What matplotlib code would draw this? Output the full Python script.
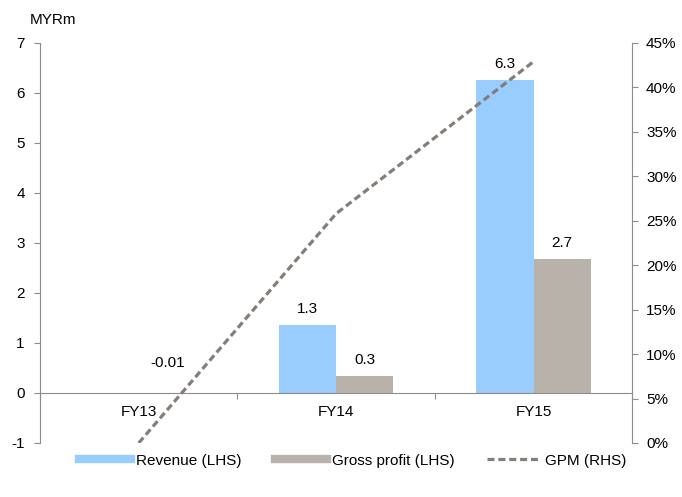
import matplotlib
matplotlib.use("Agg")
import numpy as np
from matplotlib import pyplot as plt
from matplotlib.lines import Line2D

# data
years = ["FY13", "FY14", "FY15"]
revenue = [0.0, 1.36, 6.26]
gross_profit = [-0.01, 0.34, 2.68]
revenue_labels = ["", "1.3", "6.3"]
gp_labels = ["-0.01", "0.3", "2.7"]
gpm = [0.0, 25.8, 42.9]

REV_COLOR = "#99CCFF"
GP_COLOR = "#B8B2AB"
LINE_COLOR = "#857D77"
AXIS_COLOR = "#8C8C8C"


def main():
    plt.rcParams["font.family"] = ["Liberation Sans", "DejaVu Sans"]
    plt.rcParams["font.size"] = 11
    plt.rcParams["axes.unicode_minus"] = False

    fig = plt.figure(figsize=(6.82, 4.97), dpi=100)
    ax = fig.add_axes([0.0587, 0.1087, 0.8683, 0.8048])
    ax2 = ax.twinx()

    x = np.arange(len(years))
    w = 0.29
    ax.bar(x - w / 2, revenue, w, color=REV_COLOR, zorder=2)
    ax.bar(x + w / 2, gross_profit, w, color=GP_COLOR, zorder=2)

    for i in range(len(years)):
        if revenue_labels[i]:
            ax.text(x[i] - w / 2, revenue[i] + 0.18, revenue_labels[i],
                    ha="center", va="bottom")
        # negative values get their label lifted clear of the zero line
        off = 0.45 if gross_profit[i] < 0 else 0.18
        ax.text(x[i] + w / 2, max(gross_profit[i], 0) + off, gp_labels[i],
                ha="center", va="bottom")

    ax.set_xlim(-0.5, 2.5)
    ax.set_ylim(-1, 7)
    ax.set_yticks(range(-1, 8))

    # category boundary ticks on the zero line, labels at centres
    ax.set_xticks([-0.5, 0.5, 1.5, 2.5])
    ax.set_xticklabels([])
    ax.set_xticks(x, minor=True)
    ax.set_xticklabels(years, minor=True)
    ax.tick_params(axis="x", which="major", length=4, color=AXIS_COLOR)
    ax.tick_params(axis="x", which="minor", length=0, pad=9)

    ax.spines["bottom"].set_position(("data", 0))
    for s in ["top", "right"]:
        ax.spines[s].set_visible(False)
    ax.spines["left"].set_color(AXIS_COLOR)
    ax.spines["bottom"].set_color(AXIS_COLOR)
    ax.tick_params(axis="y", length=4, color=AXIS_COLOR, pad=7)

    ax2.plot(x, gpm, color=LINE_COLOR, linestyle=(0, (2.2, 1.2)),
             linewidth=2.3, zorder=3)
    ax2.set_ylim(0, 45)
    ax2.set_yticks(range(0, 50, 5))
    ax2.set_yticklabels([f"{v}%" for v in range(0, 50, 5)])
    for s in ["top", "left", "bottom"]:
        ax2.spines[s].set_visible(False)
    ax2.spines["right"].set_color(AXIS_COLOR)
    ax2.tick_params(axis="y", length=4, color=AXIS_COLOR, pad=6)

    fig.text(0.043, 0.945, "MYRm", ha="left", va="bottom")

    handles = [
        Line2D([], [], color=REV_COLOR, linewidth=6),
        Line2D([], [], color=GP_COLOR, linewidth=6),
        Line2D([], [], color=LINE_COLOR, linewidth=2.3, linestyle=(0, (2.2, 1.2))),
    ]
    fig.legend(handles, ["Revenue (LHS)", "Gross profit (LHS)", "GPM (RHS)"],
               loc="center", bbox_to_anchor=(0.517, 0.073), ncol=3,
               frameon=False, handlelength=3.4, columnspacing=2.15,
               handletextpad=0.35)

    fig.savefig("out.png", dpi=100)
    plt.close(fig)


if __name__ == "__main__":
    main()
